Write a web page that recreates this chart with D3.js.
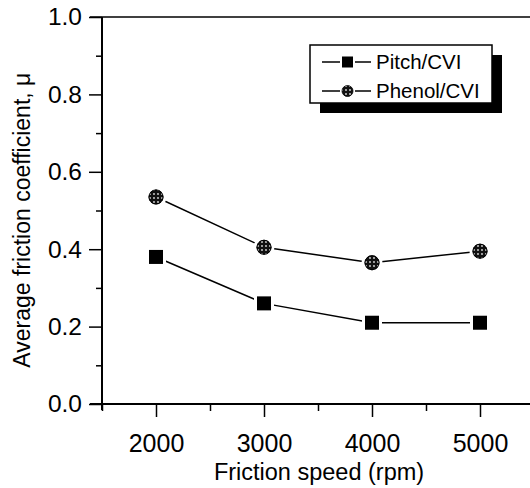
<!DOCTYPE html>
<html>
<head>
<meta charset="utf-8">
<script src="https://cdn.jsdelivr.net/npm/d3@7"></script>
<style>
  body { margin: 0; background: #fff; }
  svg text { font-family: "Liberation Sans", Arial, sans-serif; fill: #000; }
</style>
</head>
<body>
<div id="chart"></div>
<script>
const speeds = [2000, 3000, 4000, 5000]
const pitchCVI = [0.38, 0.26, 0.21, 0.21]
const phenolCVI = [0.535, 0.405, 0.365, 0.395]
const seriesNames = ['Pitch/CVI', 'Phenol/CVI']
const yTicks = [0, 0.2, 0.4, 0.6, 0.8, 1.0]
const xTicks = [2000, 3000, 4000, 5000]

const width = 530
const height = 488

const svg = d3.select('#chart')
              .append('svg')
              .attr('width', width)
              .attr('height', height)

const x = d3.scaleLinear()
            .domain([1500, 5500])
            .range([102, 534])

const y = d3.scaleLinear()
            .domain([0, 1])
            .range([404, 17])

// dotted fill for the phenol circles
const defs = svg.append('defs')
const pat = defs.append('pattern')
                .attr('id', 'dots')
                .attr('patternUnits', 'userSpaceOnUse')
                .attr('width', 4)
                .attr('height', 4)
pat.append('rect').attr('width', 4).attr('height', 4).attr('fill', '#111')
pat.append('circle').attr('cx', 2).attr('cy', 2).attr('r', 0.9).attr('fill', '#ddd')

// top frame line
svg.append('line')
   .attr('x1', 90).attr('x2', width)
   .attr('y1', y(1)).attr('y2', y(1))
   .attr('stroke', '#000').attr('stroke-width', 1.5)

// y axis
const isMajorY = d => yTicks.some(t => Math.abs(t - d) < 1e-6)
const yAxis = svg.append('g')
   .attr('transform', `translate(${x(1500)}, 0)`)
   .call(d3.axisLeft(y).tickValues(d3.range(0, 1.01, 0.1)).tickSize(6)
           .tickFormat(d => isMajorY(d) ? d3.format('.1f')(d) : ''))
yAxis.select('.domain').attr('d', `M0,${y(1)}V${y(0) + 6}`).attr('stroke-width', 2)
yAxis.selectAll('.tick line').attr('stroke-width', 1.5)
     .attr('x2', d => isMajorY(d) ? -13 : -6)
yAxis.selectAll('.tick text').attr('x', -20).style('font-size', '24.5px')

// x axis
const xAxis = svg.append('g')
   .attr('transform', `translate(0, ${y(0)})`)
   .call(d3.axisBottom(x).tickValues(d3.range(1500, 5501, 500)).tickSize(6)
           .tickFormat(d => xTicks.includes(d) ? d : ''))
xAxis.select('.domain').attr('d', `M90,0H${width}`).attr('stroke-width', 2)
xAxis.selectAll('.tick line').attr('stroke-width', 1.5)
     .attr('y2', d => xTicks.includes(d) ? 13 : 7)
xAxis.selectAll('.tick text').attr('y', 48).attr('dy', null).style('font-size', '25px')

// axis titles
svg.append('text')
   .attr('x', x(3500) + 1).attr('y', 480)
   .attr('text-anchor', 'middle')
   .style('font-size', '23.5px')
   .text('Friction speed (rpm)')

svg.append('text')
   .attr('transform', `translate(30, ${y(0.475)}) rotate(-90)`)
   .attr('text-anchor', 'middle')
   .style('font-size', '23px')
   .text('Average friction coefficient, μ')

const line = d3.line().x(d => x(d[0])).y(d => y(d[1]))
const pitchData = d3.zip(speeds, pitchCVI)
const phenolData = d3.zip(speeds, phenolCVI)

svg.append('path').datum(pitchData).attr('d', line)
   .attr('fill', 'none').attr('stroke', '#000').attr('stroke-width', 1.5)
svg.append('path').datum(phenolData).attr('d', line)
   .attr('fill', 'none').attr('stroke', '#000').attr('stroke-width', 1.5)

// squares with a white halo to leave the gap around the symbol
svg.selectAll('.sq')
   .data(pitchData)
   .enter().append('rect')
   .attr('class', 'sq')
   .attr('x', d => x(d[0]) - 7).attr('y', d => y(d[1]) - 7)
   .attr('width', 14).attr('height', 14)
   .attr('fill', '#000').attr('stroke', '#fff').attr('stroke-width', 6)
   .attr('paint-order', 'stroke')

svg.selectAll('.ci')
   .data(phenolData)
   .enter().append('circle')
   .attr('class', 'ci')
   .attr('cx', d => x(d[0])).attr('cy', d => y(d[1]))
   .attr('r', 7.5)
   .attr('fill', 'url(#dots)').attr('stroke', '#fff').attr('stroke-width', 6)
   .attr('paint-order', 'stroke')
svg.selectAll('.ci2')
   .data(phenolData)
   .enter().append('circle')
   .attr('cx', d => x(d[0])).attr('cy', d => y(d[1]))
   .attr('r', 7).attr('fill', 'none').attr('stroke', '#000').attr('stroke-width', 1)

// legend
const lg = svg.append('g')
lg.append('rect').attr('x', 320).attr('y', 55).attr('width', 182).attr('height', 58).attr('fill', '#000')
lg.append('rect').attr('x', 310).attr('y', 45).attr('width', 182).attr('height', 58)
  .attr('fill', '#fff').attr('stroke', '#000').attr('stroke-width', 1.5)

seriesNames.forEach((name, i) => {
  const cy = 62 + i * 29
  lg.append('line').attr('x1', 322).attr('x2', 340).attr('y1', cy).attr('y2', cy)
    .attr('stroke', '#000').attr('stroke-width', 1.5)
  lg.append('line').attr('x1', 355).attr('x2', 371).attr('y1', cy).attr('y2', cy)
    .attr('stroke', '#000').attr('stroke-width', 1.5)
  if (i === 0) {
    lg.append('rect').attr('x', 342).attr('y', cy - 5.5).attr('width', 11).attr('height', 11).attr('fill', '#000')
  } else {
    lg.append('circle').attr('cx', 347.5).attr('cy', cy).attr('r', 5.5)
      .attr('fill', 'url(#dots)').attr('stroke', '#000').attr('stroke-width', 0.8)
  }
  lg.append('text').attr('x', 376).attr('y', cy).attr('dy', '0.35em')
    .style('font-size', '20.5px').text(name)
})
</script>
</body>
</html>
